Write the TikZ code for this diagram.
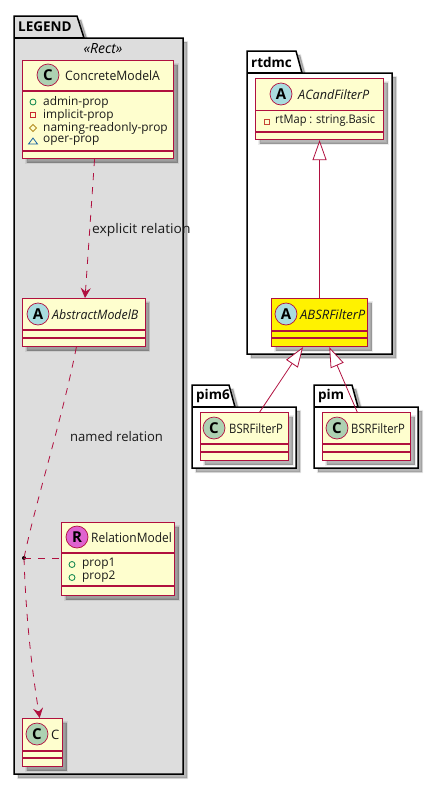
\documentclass[tikz,border=0pt]{standalone}
\usepackage{fontspec}
\setmainfont{Open Sans}
\usetikzlibrary{arrows.meta,shadows,calc}
\definecolor{umlred}{HTML}{B0103F}
\definecolor{umlfill}{HTML}{FEFECE}
\definecolor{spotC}{HTML}{ADD1B2}
\definecolor{spotA}{HTML}{A9DCDF}
\definecolor{spotR}{HTML}{DF63CF}
\definecolor{pubg}{HTML}{038048}
\definecolor{privr}{HTML}{C82930}
\definecolor{protg}{HTML}{B38D22}
\definecolor{pkgb}{HTML}{1963A0}
\definecolor{frame}{HTML}{DDDDDD}
\tikzset{
  softshadow/.style={
    general shadow={fill=black,draw=black,line width=2.4pt,opacity=.07,shadow xshift=4pt,shadow yshift=-4pt},
    general shadow={fill=black,draw=black,line width=1pt,opacity=.10,shadow xshift=4pt,shadow yshift=-4pt},
    general shadow={fill=black,opacity=.14,shadow xshift=4pt,shadow yshift=-4pt}},
  classbox/.style={draw=umlred,line width=1.1pt,fill=umlfill,anchor=north west,inner sep=0pt,softshadow},
  spot/.style={circle,draw=umlred,line width=.7pt,minimum size=22pt,inner sep=0pt,font=\fontsize{15}{15}\selectfont\bfseries},
  lbl/.style={anchor=west,inner sep=0pt,font=\fontsize{13}{15}\selectfont,text=black!90},
  ilbl/.style={lbl,font=\fontsize{13}{15}\selectfont\itshape},
  attr/.style={lbl,font=\fontsize{11.9}{14}\selectfont},
  edgelbl/.style={lbl,font=\fontsize{13.3}{15}\selectfont},
  pkg/.style={draw=black,line width=1.5pt,softshadow},
  pkgtitle/.style={anchor=west,inner sep=0pt,font=\fontsize{13.5}{15}\selectfont\bfseries},
  sepl/.style={draw=umlred,line width=1.1pt},
  dep/.style={draw=umlred,line width=.8pt,dash pattern=on 7pt off 7pt},
  inh/.style={draw=umlred,line width=.8pt,-{Triangle[open,fill=white,length=20pt,width=14pt]}},
  vee/.style={-{Stealth[length=10pt,width=10pt,inset=3.5pt,fill=umlred,sep=0pt]}},
}
\newcommand{\sx}[2]{\scalebox{#1}[1]{#2}}
% name, x1,y1,x2,y2, sep1, sep2, fill
\newcommand{\umlbox}[8]{%
  \node[classbox,fill=#8,minimum width=#4pt-#2pt,minimum height=#5pt-#3pt] (#1) at (#2,#3) {};
  \draw[sepl] (#2,#6) -- (#4,#6);
  \draw[sepl] (#2,#7) -- (#4,#7);
}
% x1,y1, tab right top, tab right bottom, x2, y2, ytab, fill
\newcommand{\pk}[8]{\path[pkg,fill=#8] (#1,#2) -- (#3,#2) -- (#4,#7) -- (#5,#7) -- (#5,#6) -- (#1,#6) -- cycle; \draw[line width=1.5pt,black] (#1,#7) -- (#4,#7);}
\begin{document}
\begin{tikzpicture}[x=1pt,y=-1pt]
\useasboundingbox (0,0) rectangle (439,785);
% packages
\pk{14}{16}{77}{84}{183}{774}{38}{frame}
\pk{247}{51}{296}{302}{392}{354}{73}{white}
\pk{192}{385}{229}{235}{296}{468}{407}{white}
\pk{314}{385}{352}{358}{418}{468}{407}{white}
\node[pkgtitle] (tlegend) at (18,27) {LEGEND};
\node[pkgtitle] (trtdmc) at (251,62) {rtdmc};
\node[pkgtitle] (tpim6) at (196,396) {pim6};
\node[pkgtitle] (tpim) at (318,396) {pim};
\node[anchor=center,inner sep=0pt,font=\fontsize{14}{15}\selectfont\itshape] (stereo) at (103,49) {«Rect»};
% classes
\umlbox{cma}{22}{60}{173}{158}{91}{151}{umlfill}
\node[spot,fill=spotC] (scma) at (48,75) {C};
\node[lbl] (lcma) at (65,76) {\sx{.94}{ConcreteModelA}};
\umlbox{amb}{22}{298}{144.5}{346}{330}{338}{umlfill}
\node[spot,fill=spotA] (samb) at (38,314) {A};
\node[ilbl] (lamb) at (52,315) {\sx{.95}{AbstractModelB}};
\umlbox{rel}{61}{522}{174}{595}{553}{586}{umlfill}
\node[spot,fill=spotR] (srel) at (77,537) {R};
\node[lbl] (lrel) at (91,538) {\sx{.92}{RelationModel}};
\umlbox{cc}{22}{718}{62}{766}{751}{758}{umlfill}
\node[spot,fill=spotC] (scc) at (37,734) {C};
\node[lbl] (lcc) at (51,735) {C};
\umlbox{acand}{255}{78}{383}{139}{110.5}{132}{umlfill}
\node[spot,fill=spotA] (sacand) at (281,94) {A};
\node[ilbl] (lacand) at (298,95) {\sx{.97}{ACandFilterP}};
\umlbox{absr}{271}{298}{367}{346}{331}{338}{yellow}
\node[spot,fill=spotA] (sabsr) at (286,314) {A};
\node[ilbl] (labsr) at (300,315) {ABSRFilterP};
\umlbox{bsra}{200}{412}{288}{460}{444}{452}{umlfill}
\node[spot,fill=spotC] (sbsra) at (214,428) {C};
\node[lbl] (lbsra) at (229,429) {\sx{.87}{BSRFilterP}};
\umlbox{bsrb}{322}{412}{410}{460}{444}{452}{umlfill}
\node[spot,fill=spotC] (sbsrb) at (337,428) {C};
\node[lbl] (lbsrb) at (351,429) {\sx{.87}{BSRFilterP}};
% attributes
\draw[pubg,line width=.8pt] (33,102) circle (3pt);
\node[attr] (a1) at (43,102) {admin-prop};
\draw[privr,line width=.8pt] (30.5,112.5) rectangle (35.5,117.5);
\node[attr] (a2) at (43,115) {implicit-prop};
\draw[protg,line width=.8pt] (33,124.5) -- (36.5,128) -- (33,131.5) -- (29.5,128) -- cycle;
\node[attr] (a3) at (43,128) {naming-readonly-prop};
\draw[pkgb,line width=.8pt] (33,138) -- (37.5,144) -- (28.5,144) -- cycle;
\node[attr] (a4) at (43,141) {oper-prop};
\draw[pubg,line width=.8pt] (72,564.5) circle (3pt);
\node[attr] (p1) at (82,564) {prop1};
\draw[pubg,line width=.8pt] (72,577.5) circle (3pt);
\node[attr] (p2) at (82,577) {prop2};
\draw[privr!70!brown,line width=.8pt] (264.5,119.5) rectangle (269.5,124.5);
\node[attr] (rt) at (275,121) {\sx{.93}{rtMap : string.Basic}};
% connectors
\coordinate (mid) at (24,558);
\fill (mid) circle (2pt);
\draw[dep,vee] ($(cma.south west)!.477!(cma.south east)$) -- ($(amb.north west)!.51!(amb.north east)$);
\draw[dep] ($(amb.south west)!.44!(amb.south east)$) .. controls (62,420) and (36,500) .. (mid);
\draw[dep,vee] (mid) .. controls (26,620) and (32,670) .. ($(cc.north west)!.43!(cc.north east)$);
\draw[dep] (mid) -- (rel.west |- mid);
\draw[inh] ($(absr.north west)!.5!(absr.north east)$) -- ($(acand.south west)!.5!(acand.south east)$);
\draw[inh] ($(bsra.north west)!.67!(bsra.north east)$) -- ($(absr.south west)!.33!(absr.south east)$);
\draw[inh] ($(bsrb.north west)!.395!(bsrb.north east)$) -- ($(absr.south west)!.6!(absr.south east)$);
\node[edgelbl] (lexp) at (92,230) {\sx{1.04}{explicit relation}};
\node[edgelbl] (lnam) at (70,437) {\sx{.98}{named relation}};
\end{tikzpicture}
\end{document}
